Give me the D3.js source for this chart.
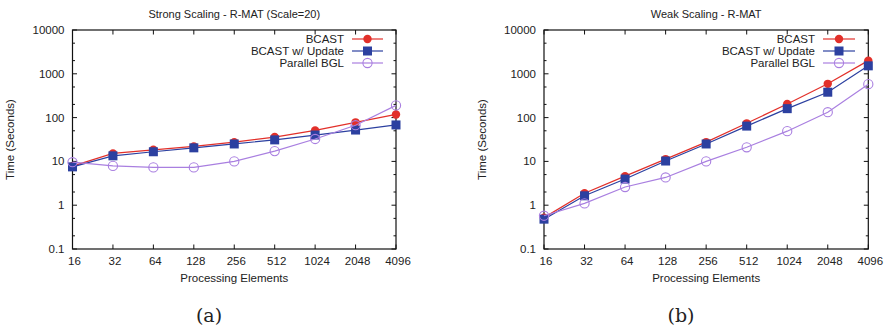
<!DOCTYPE html>
<html>
<head>
<meta charset="utf-8">
<script src="https://cdn.jsdelivr.net/npm/d3@7"></script>
<style>
  body { margin: 0; background: #fff; }
  svg { display: block; }
  text { font-family: "Liberation Sans", Arial, Helvetica, sans-serif; fill: #222; }
</style>
</head>
<body>
<svg id="chart" width="886" height="330"></svg>
<script>
const processors = [16, 32, 64, 128, 256, 512, 1024, 2048, 4096];
const yTicks = [0.1, 1, 10, 100, 1000, 10000];
const yTickLabels = ["0.1", "1", "10", "100", "1000", "10000"];
const seriesNames = ["BCAST", "BCAST w/ Update", "Parallel BGL"];

// Strong scaling
const strongBcast  = [7.8, 15.2, 18.4, 22, 27.5, 36, 51, 78, 118];
const strongUpdate = [7.5, 13.4, 16.6, 20.4, 25, 31, 40, 52, 68];
const strongPBGL   = [9.6, 7.9, 7.3, 7.3, 10, 17.2, 32.5, 67, 190];

// Weak scaling
const weakBcast  = [0.52, 1.87, 4.6, 11.3, 27.6, 74, 205, 590, 2000];
const weakUpdate = [0.48, 1.64, 3.95, 10.2, 25, 64, 160, 380, 1520];
const weakPBGL   = [0.575, 1.1, 2.6, 4.3, 10, 21, 49, 133, 580];

const colors = ["#e2302a", "#2c40a0", "#a97fe0"];
const markers = ["circle", "square", "ocircle"];

const svg = d3.select("#chart");

function drawPanel(cfg) {
  const g = svg.append("g");
  const x = d3.scaleLog().base(2).domain([16, 4096]).range([cfg.x0, cfg.x1]);
  const y = d3.scaleLog().domain([0.1, 10000]).range([249, 30]);
  const cx = (cfg.x0 + cfg.x1) / 2;

  // title
  g.append("text").attr("x", cx).attr("y", 18).attr("text-anchor", "middle")
    .style("font-size", "11px").text(cfg.title);

  // minor y ticks
  const minor = [];
  [0.1, 1, 10, 100, 1000].forEach(d => { minor.push(d * 2); minor.push(d * 5); });
  const tickG = g.append("g").attr("stroke", "#111").attr("stroke-width", 1);
  minor.forEach(v => {
    tickG.append("line").attr("x1", cfg.x0).attr("x2", cfg.x0 + 2.5).attr("y1", y(v)).attr("y2", y(v));
    tickG.append("line").attr("x1", cfg.x1).attr("x2", cfg.x1 - 2.5).attr("y1", y(v)).attr("y2", y(v));
  });
  yTicks.forEach(v => {
    tickG.append("line").attr("x1", cfg.x0).attr("x2", cfg.x0 + 4.5).attr("y1", y(v)).attr("y2", y(v));
    tickG.append("line").attr("x1", cfg.x1).attr("x2", cfg.x1 - 4.5).attr("y1", y(v)).attr("y2", y(v));
  });
  processors.forEach(v => {
    tickG.append("line").attr("x1", x(v)).attr("x2", x(v)).attr("y1", 249).attr("y2", 244.5);
    tickG.append("line").attr("x1", x(v)).attr("x2", x(v)).attr("y1", 30).attr("y2", 34.5);
  });

  // frame
  g.append("rect").attr("x", cfg.x0).attr("y", 30).attr("width", cfg.x1 - cfg.x0).attr("height", 219)
    .attr("fill", "none").attr("stroke", "#111").attr("stroke-width", 1.2);

  // y tick labels
  yTicks.forEach((v, i) => {
    g.append("text").attr("x", cfg.x0 - 8).attr("y", y(v) + 4).attr("text-anchor", "end")
      .style("font-size", "11.5px").text(yTickLabels[i]);
  });
  // x tick labels
  processors.forEach(v => {
    g.append("text").attr("x", x(v) + 2).attr("y", 265).attr("text-anchor", "middle")
      .style("font-size", "11.5px").text(v);
  });
  // axis titles
  g.append("text").attr("x", cx).attr("y", 282).attr("text-anchor", "middle")
    .style("font-size", "11.5px").text("Processing Elements");
  g.append("text").attr("transform", `translate(${cfg.ylabX},139.5) rotate(-90)`)
    .attr("text-anchor", "middle").style("font-size", "11.5px").text("Time (Seconds)");

  // sub caption
  g.append("text").attr("x", cfg.capX).attr("y", 322).attr("text-anchor", "middle")
    .style("font-family", "'DejaVu Serif', 'Liberation Serif', serif").style("font-size", "19px")
    .text(cfg.caption);

  const line = d3.line().x((d, i) => x(processors[i])).y(d => y(d));

  function marker(sel, type, color, px, py) {
    if (type === "circle") {
      sel.append("circle").attr("cx", px).attr("cy", py).attr("r", 4.2).attr("fill", color);
    } else if (type === "square") {
      sel.append("rect").attr("x", px - 4.5).attr("y", py - 4.5).attr("width", 9).attr("height", 9).attr("fill", color);
    } else {
      sel.append("circle").attr("cx", px).attr("cy", py).attr("r", 4.6).attr("fill", "none")
        .attr("stroke", color).attr("stroke-width", 1.1);
    }
  }

  // draw series in order: PBGL behind? Draw BCAST, update, PBGL
  cfg.data.forEach((vals, si) => {
    const sg = g.append("g");
    sg.append("path").attr("d", line(vals)).attr("fill", "none")
      .attr("stroke", colors[si]).attr("stroke-width", 1.2);
    vals.forEach((v, i) => marker(sg, markers[si], colors[si], x(processors[i]), y(v)));
  });

  // legend
  const legY = [39, 51, 63];
  seriesNames.forEach((name, si) => {
    g.append("text").attr("x", cfg.legTextX).attr("y", legY[si] + 4).attr("text-anchor", "end")
      .style("font-size", "11.5px").text(name);
    g.append("line").attr("x1", cfg.legLine[0]).attr("x2", cfg.legLine[1])
      .attr("y1", legY[si]).attr("y2", legY[si]).attr("stroke", colors[si]).attr("stroke-width", 1.2);
    marker(g, markers[si], colors[si], (cfg.legLine[0] + cfg.legLine[1]) / 2, legY[si]);
  });
}

drawPanel({
  x0: 72.5, x1: 396, title: "Strong Scaling - R-MAT (Scale=20)", ylabX: 14, capX: 209, caption: "(a)",
  data: [strongBcast, strongUpdate, strongPBGL], legTextX: 344, legLine: [352, 383]
});
drawPanel({
  x0: 544, x1: 868.3, title: "Weak Scaling - R-MAT", ylabX: 486, capX: 681, caption: "(b)",
  data: [weakBcast, weakUpdate, weakPBGL], legTextX: 815, legLine: [823, 855]
});
</script>
</body>
</html>
